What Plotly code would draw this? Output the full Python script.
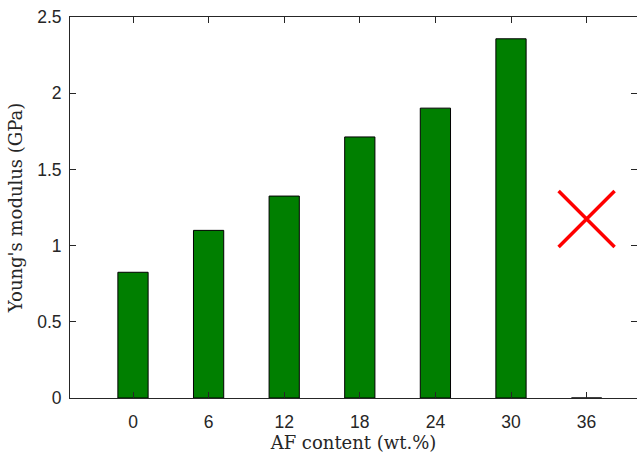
import plotly.graph_objects as go

categories = [0, 6, 12, 18, 24, 30, 36]
modulus = [0.825, 1.10, 1.325, 1.713, 1.902, 2.357, 0.0]
cross_x = [36]
cross_y = [1.175]
y_ticks = [0, 0.5, 1, 1.5, 2, 2.5]
y_tick_text = ["0", "0.5", "1", "1.5", "2", "2.5"]

fig = go.Figure()
fig.add_trace(go.Bar(
    x=categories, y=modulus, width=2.4,
    marker=dict(color="#007F00", line=dict(color="black", width=1)),
    showlegend=False,
))
fig.add_trace(go.Scatter(
    x=cross_x, y=cross_y, mode="markers",
    marker=dict(symbol="x-thin", size=56, line=dict(color="#FF0000", width=3.5)),
    showlegend=False,
))

axis_color = "#262626"
tick_font = dict(family="Liberation Sans, Arial, sans-serif", size=17.5, color=axis_color)
title_font = dict(family="DejaVu Serif, serif", size=18, color=axis_color)
fig.update_layout(
    width=637, height=460,
    margin=dict(l=70, r=0, t=17, b=62),
    paper_bgcolor="white", plot_bgcolor="white",
    font=dict(family="Liberation Sans, Arial, sans-serif", size=17, color=axis_color),
    xaxis=dict(
        range=[-5, 40], tickvals=categories, ticktext=[str(c) for c in categories],
        tickfont=tick_font, ticklabelstandoff=8,
        ticks="inside", ticklen=6, tickcolor=axis_color, showline=True, linecolor=axis_color,
        linewidth=1, mirror="ticks", showgrid=False, zeroline=False,
        title=dict(text="AF content (wt.%)", font=title_font, standoff=4),
    ),
    yaxis=dict(
        range=[0, 2.5], tickvals=y_ticks, ticktext=y_tick_text,
        tickfont=tick_font, ticklabelstandoff=4,
        ticks="inside", ticklen=6, tickcolor=axis_color, showline=True, linecolor=axis_color,
        linewidth=1, mirror="ticks", showgrid=False, zeroline=False,
        title=dict(text="Young's modulus (GPa)", font=title_font, standoff=9),
    ),
)
fig.write_html("out.html")
